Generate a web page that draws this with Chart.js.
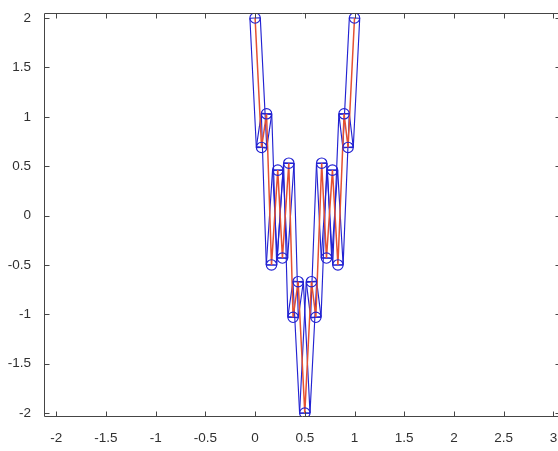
<!DOCTYPE html>
<html>
<head>
<meta charset="utf-8">
<script src="https://cdn.jsdelivr.net/npm/chart.js@4"></script>
<style>
html,body{margin:0;padding:0;overflow:hidden;background:#fff;}
#wrap{width:566px;height:451px;}
</style>
</head>
<body>
<div id="wrap"><canvas id="c" width="566" height="451"></canvas></div>
<script>
// Node coordinates of the curve
const nodeX = [0, 0.065, 0.115, 0.165, 0.228, 0.275, 0.339, 0.382, 0.433, 0.5,
               0.567, 0.611, 0.67, 0.718, 0.778, 0.833, 0.895, 0.935, 1];
const nodeY = [2, 0.69, 1.03, -0.5, 0.46, -0.43, 0.53, -1.03, -0.67, -2,
               -0.67, -1.03, 0.53, -0.43, 0.46, -0.5, 1.03, 0.69, 2];
const xTicks = [-2, -1.5, -1, -0.5, 0, 0.5, 1, 1.5, 2, 2.5, 3];
const yTicks = [-2, -1.5, -1, -0.5, 0, 0.5, 1, 1.5, 2];
const xRange = [-2.123, 3.063];
const yRange = [-2.03, 2.05];

const RED = 'rgb(228,80,50)';
const BLUE = 'rgb(34,34,210)';
const AXIS = '#454545';
const TXT = '#303030';

const points = nodeX.map((v, i) => ({x: v, y: nodeY[i]}));

const capsulePlugin = {
  id: 'capsules',
  beforeDatasetsDraw(chart) {
    const {ctx, chartArea: a, scales: {x, y}} = chart;
    const r = 5.2;
    ctx.save();
    ctx.beginPath(); ctx.rect(a.left, a.top, a.right - a.left, a.bottom - a.top); ctx.clip();
    ctx.strokeStyle = BLUE; ctx.lineWidth = 1.15;
    for (let i = 0; i < nodeX.length - 1; i++) {
      const x1 = x.getPixelForValue(nodeX[i]), y1 = y.getPixelForValue(nodeY[i]);
      const x2 = x.getPixelForValue(nodeX[i + 1]), y2 = y.getPixelForValue(nodeY[i + 1]);
      const dx = x2 - x1, dy = y2 - y1, L = Math.hypot(dx, dy);
      const nx = -dy / L * r, ny = dx / L * r;
      ctx.beginPath();
      ctx.moveTo(x1 + nx, y1 + ny); ctx.lineTo(x2 + nx, y2 + ny);
      ctx.moveTo(x1 - nx, y1 - ny); ctx.lineTo(x2 - nx, y2 - ny);
      ctx.moveTo(x1 + nx, y1 + ny); ctx.lineTo(x1 - nx, y1 - ny);
      ctx.moveTo(x2 + nx, y2 + ny); ctx.lineTo(x2 - nx, y2 - ny);
      ctx.stroke();
    }
    ctx.restore();
  }
};

const axesPlugin = {
  id: 'boxAxes',
  afterDraw(chart) {
    const {ctx, chartArea: a, scales: {x, y}} = chart;
    const t = 5;
    ctx.save();
    ctx.strokeStyle = AXIS; ctx.lineWidth = 1;
    ctx.beginPath();
    const L = Math.round(a.left) + 0.5, R = Math.round(a.right) + 0.5;
    const T = Math.round(a.top) + 0.5, B = Math.round(a.bottom) + 0.5;
    ctx.moveTo(L, T); ctx.lineTo(R, T); ctx.lineTo(R, B); ctx.lineTo(L, B); ctx.closePath();
    xTicks.forEach(v => {
      const px = Math.round(x.getPixelForValue(v)) + 0.5;
      ctx.moveTo(px, B); ctx.lineTo(px, B - t);
      ctx.moveTo(px, T); ctx.lineTo(px, T + t);
    });
    yTicks.forEach(v => {
      const py = Math.round(y.getPixelForValue(v)) + 0.5;
      ctx.moveTo(L, py); ctx.lineTo(L + t, py);
      ctx.moveTo(R, py); ctx.lineTo(R - t, py);
    });
    ctx.stroke();
    ctx.restore();
  }
};

new Chart(document.getElementById('c'), {
  type: 'scatter',
  data: {
    datasets: [
      {
        data: points, showLine: true, borderColor: RED, borderWidth: 1.5,
        pointRadius: 0, tension: 0, order: 2
      },
      {
        data: points, showLine: false, pointRadius: 5.2, pointStyle: 'circle',
        pointBorderColor: BLUE, pointBackgroundColor: 'rgba(0,0,0,0)',
        pointBorderWidth: 1.15, order: 1
      }
    ]
  },
  options: {
    responsive: false, animation: false, devicePixelRatio: 1,
    layout: {padding: {top: 9, right: 6, left: 0, bottom: 0}},
    plugins: {legend: {display: false}, tooltip: {enabled: false}},
    scales: {
      x: {
        type: 'linear', min: xRange[0], max: xRange[1],
        grid: {display: false}, border: {display: false},
        afterBuildTicks: s => { s.ticks = xTicks.map(v => ({value: v})); },
        afterFit: s => { s.height = 35; },
        ticks: {
          padding: 6, color: TXT, maxRotation: 0, autoSkip: false,
          font: {family: '"Liberation Sans", Arial, sans-serif', size: 13.5},
          callback: v => String(v)
        }
      },
      y: {
        type: 'linear', min: yRange[0], max: yRange[1],
        grid: {display: false}, border: {display: false},
        afterBuildTicks: s => { s.ticks = yTicks.map(v => ({value: v})); },
        afterFit: s => { s.width = 44; },
        ticks: {
          padding: 5, color: TXT, autoSkip: false,
          font: {family: '"Liberation Sans", Arial, sans-serif', size: 13.5},
          callback: v => String(v)
        }
      }
    }
  },
  plugins: [capsulePlugin, axesPlugin]
});
</script>
</body>
</html>
